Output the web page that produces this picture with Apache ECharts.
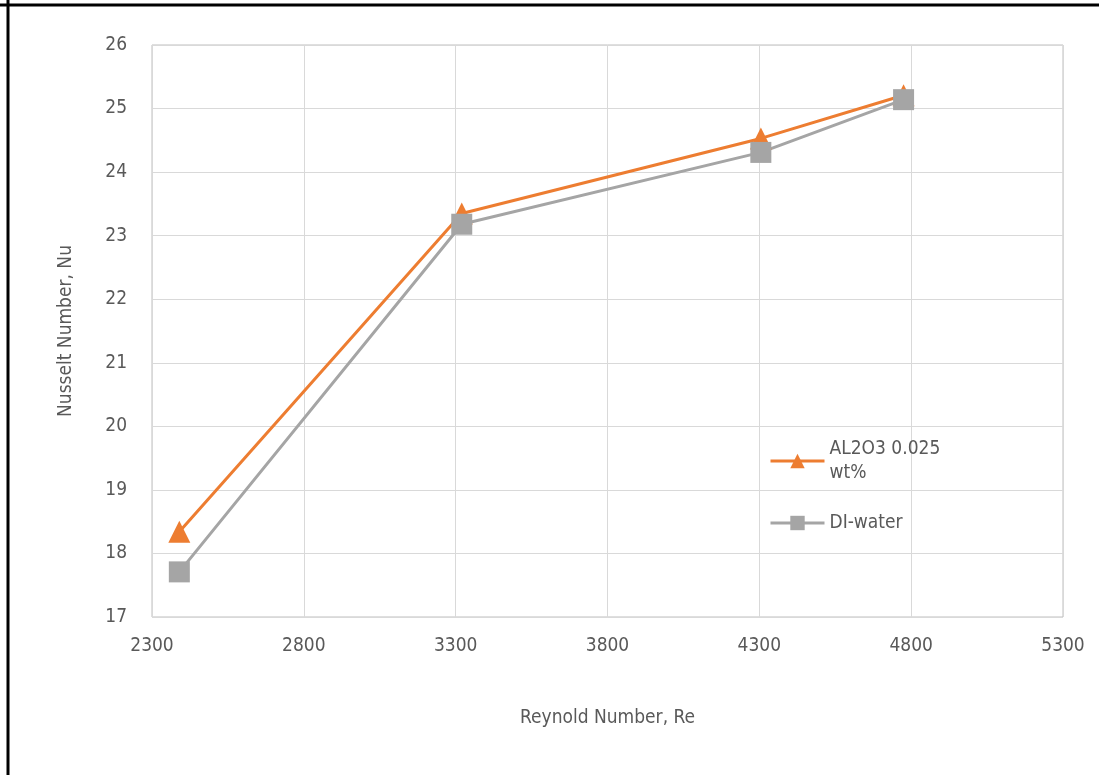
<!DOCTYPE html>
<html><head><meta charset="utf-8">
<script src="https://cdn.jsdelivr.net/npm/echarts@6/dist/echarts.min.js"></script>
<style>html,body{margin:0;padding:0;background:#fff}#c{width:1099px;height:775px}</style>
</head><body><div id="c"></div>
<script>
const reynolds = [2390, 3320, 4305, 4775];
const al2o3 = [18.34, 23.35, 24.53, 25.21];
const diWater = [17.71, 23.18, 24.31, 25.14];
const seriesNames = ['AL2O3 0.025\nwt%', 'DI-water'];
const xTitle = 'Reynold Number, Re';
const yTitle = 'Nusselt Number, Nu';
const font = '"DejaVu Sans Condensed", "Liberation Sans Narrow", "Open Sans", sans-serif';

const chart = echarts.init(document.getElementById('c'));
chart.setOption({
  backgroundColor: '#fff',
  animation: false,
  graphic: [
    {type: 'line', shape: {x1: 8, y1: 0, x2: 8, y2: 775}, style: {stroke: '#000', lineWidth: 3}},
    {type: 'line', shape: {x1: 0, y1: 5, x2: 1099, y2: 5}, style: {stroke: '#000', lineWidth: 3}}
  ],
  grid: {left: 152, right: 36, top: 45, bottom: 158, show: true, borderColor: '#bfbfbf', borderWidth: 1},
  legend: {
    left: 764, top: 432, orient: 'vertical', itemWidth: 54, itemHeight: 18, itemGap: 26,
    textStyle: {fontFamily: font, fontSize: 19, color: '#595959', lineHeight: 24},
    lineStyle: {width: 3},
    data: [seriesNames[0], seriesNames[1]]
  },
  xAxis: {
    type: 'value', min: 2300, max: 5300, interval: 500,
    name: xTitle, nameLocation: 'middle', nameGap: 92,
    nameTextStyle: {fontFamily: font, fontSize: 19, color: '#595959'},
    axisLine: {show: false}, axisTick: {show: false},
    axisLabel: {fontFamily: font, fontSize: 19, color: '#595959', margin: 20, formatter: v => String(v)},
    splitLine: {lineStyle: {color: '#d9d9d9', width: 1}}
  },
  yAxis: {
    type: 'value', min: 17, max: 26, interval: 1,
    name: yTitle, nameLocation: 'middle', nameGap: 76,
    nameTextStyle: {fontFamily: font, fontSize: 19, color: '#595959'},
    axisLine: {show: false}, axisTick: {show: false},
    axisLabel: {fontFamily: font, fontSize: 19, color: '#595959', margin: 25},
    splitLine: {lineStyle: {color: '#d9d9d9', width: 1}}
  },
  series: [
    {
      name: seriesNames[0], type: 'line', data: reynolds.map((x, i) => [x, al2o3[i]]),
      symbol: 'triangle', symbolSize: 22,
      lineStyle: {color: '#ED7D31', width: 3}, itemStyle: {color: '#ED7D31'}
    },
    {
      name: seriesNames[1], type: 'line', data: reynolds.map((x, i) => [x, diWater[i]]),
      symbol: 'rect', symbolSize: 21,
      lineStyle: {color: '#A5A5A5', width: 3}, itemStyle: {color: '#A5A5A5'}
    }
  ]
});
</script></body></html>
